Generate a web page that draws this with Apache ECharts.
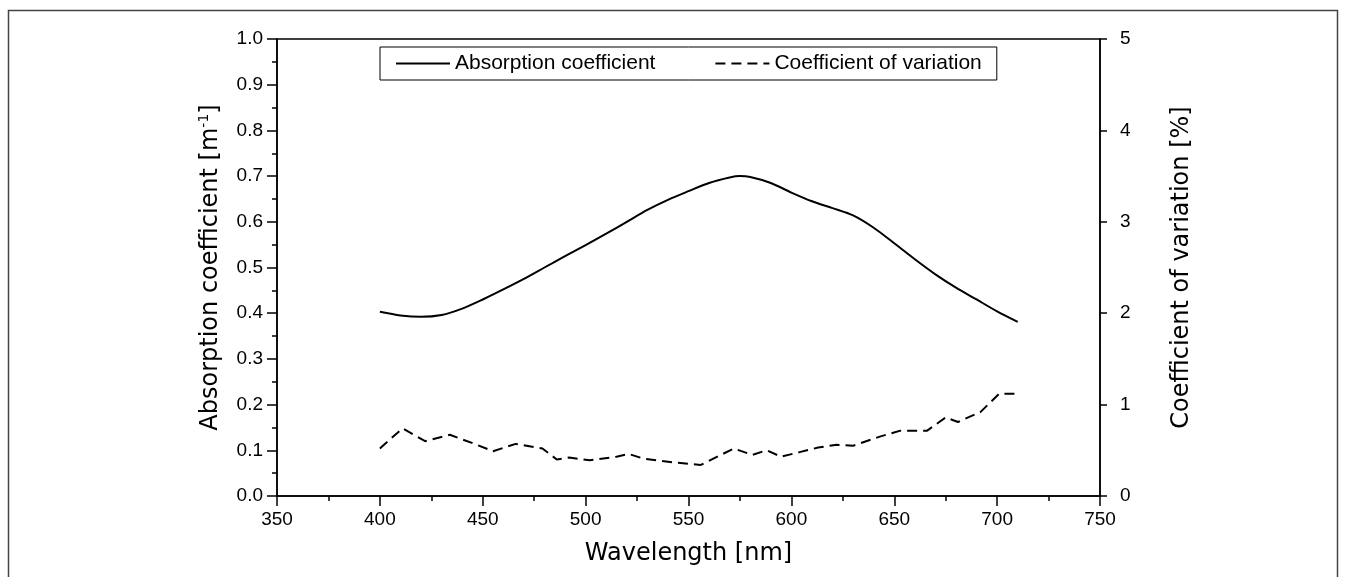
<!DOCTYPE html>
<html>
<head>
<meta charset="utf-8">
<script src="https://cdn.jsdelivr.net/npm/echarts@6/dist/echarts.min.js"></script>
<style>
html,body{margin:0;padding:0;background:#fff;}
#chart{width:1346px;height:577px;}
</style>
</head>
<body>
<div id="chart"></div>
<script>
// Absorption coefficient [m^-1] vs wavelength [nm]
const absWavelengths = [400,410,420,430,440,450,460,470,480,490,500,510,520,530,540,550,560,570,575,580,590,600,610,620,630,640,650,660,670,680,690,700,710];
const absValues      = [0.403,0.395,0.392,0.396,0.410,0.430,0.452,0.475,0.500,0.525,0.549,0.574,0.600,0.626,0.648,0.667,0.685,0.697,0.700,0.698,0.685,0.664,0.645,0.630,0.614,0.587,0.553,0.518,0.485,0.456,0.430,0.404,0.381];

// Coefficient of variation [%] vs wavelength [nm]
const cvWavelengths = [400,411,422,434,446,455,466,479,486,492,502,515,521,528,542,556,572,581,588,595,604,613,622,630,643,653,666,675,681,692,701,710];
const cvValues      = [0.52,0.74,0.60,0.67,0.57,0.49,0.57,0.52,0.40,0.42,0.39,0.43,0.46,0.41,0.37,0.34,0.52,0.45,0.50,0.43,0.48,0.53,0.56,0.55,0.65,0.715,0.715,0.86,0.81,0.92,1.12,1.12];

const xTicks = [350,400,450,500,550,600,650,700,750];
const leftTicks = [0,0.1,0.2,0.3,0.4,0.5,0.6,0.7,0.8,0.9,1.0];
const rightTicks = [0,1,2,3,4,5];

const absData = absWavelengths.map((w,i)=>[w,absValues[i]]);
const cvData = cvWavelengths.map((w,i)=>[w,cvValues[i]]);

const tickFont = {color:'#000', fontSize:19, fontFamily:'Liberation Sans'};
const titleFont = {color:'#000', fontSize:24, fontFamily:'DejaVu Sans'};

const chart = echarts.init(document.getElementById('chart'), null, {renderer:'canvas'});
chart.setOption({
  animation:false,
  backgroundColor:'#fff',
  graphic:[{
    type:'rect', shape:{x:8.5,y:10.5,width:1329,height:620},
    style:{fill:'none',stroke:'#444',lineWidth:1.5}, silent:true
  }],
  grid:{left:277, right:246, top:39, bottom:81, show:true, borderColor:'#000', borderWidth:1.5, backgroundColor:'transparent'},
  legend:{
    left:380, top:47,
    padding:[6,15,6,15],
    borderColor:'#000', borderWidth:1,
    itemGap:59, itemWidth:54, itemHeight:14,
    itemStyle:{opacity:0},
    textStyle:{color:'#000', fontSize:21, fontFamily:'Liberation Sans'},
    data:['Absorption coefficient','Coefficient of variation']
  },
  xAxis:{
    type:'value', min:350, max:750, interval:50,
    name:'Wavelength [nm]', nameLocation:'middle', nameGap:46, nameTextStyle:titleFont,
    axisLine:{onZero:false, lineStyle:{color:'#000', width:1.5}},
    axisTick:{inside:false, length:10, lineStyle:{color:'#000', width:1.5}},
    minorTick:{show:true, splitNumber:2, length:5, lineStyle:{color:'#000', width:1.5}},
    axisLabel:Object.assign({margin:14, formatter:v=>xTicks.includes(v)?String(v):''}, tickFont),
    splitLine:{show:false}
  },
  yAxis:[{
    type:'value', min:0, max:1, interval:0.1, position:'left',
    name:'Absorption coefficient [m{sup|-1}]', nameLocation:'middle', nameGap:52, nameRotate:90,
    nameTextStyle:Object.assign({rich:{sup:{fontSize:14, verticalAlign:'top', padding:[0,0,14,0], fontFamily:'DejaVu Sans', color:'#000'}}}, titleFont),
    axisLine:{show:true, onZero:false, lineStyle:{color:'#000', width:1.5}},
    axisTick:{inside:false, length:10, lineStyle:{color:'#000', width:1.5}},
    minorTick:{show:true, splitNumber:2, length:5, lineStyle:{color:'#000', width:1.5}},
    axisLabel:Object.assign({margin:14, formatter:v=>leftTicks.some(t=>Math.abs(t-v)<1e-9)?v.toFixed(1):''}, tickFont),
    splitLine:{show:false}
  },{
    type:'value', min:0, max:5, interval:1, position:'right',
    name:'Coefficient of variation [%]', nameLocation:'middle', nameGap:70, nameRotate:90,
    nameTextStyle:titleFont,
    axisLine:{show:true, onZero:false, lineStyle:{color:'#000', width:1.5}},
    axisTick:{inside:false, length:7, lineStyle:{color:'#000', width:1.5}},
    axisLabel:Object.assign({margin:20, formatter:v=>rightTicks.includes(v)?String(v):''}, tickFont),
    splitLine:{show:false}
  }],
  series:[{
    name:'Absorption coefficient', type:'line', yAxisIndex:0, data:absData,
    smooth:0.3, symbol:'none', lineStyle:{color:'#000', width:2}, itemStyle:{color:'#000'}
  },{
    name:'Coefficient of variation', type:'line', yAxisIndex:1, data:cvData,
    smooth:false, symbol:'none', lineStyle:{color:'#000', width:2, type:[10,6]}, itemStyle:{color:'#000'}
  }]
});
</script>
</body>
</html>
